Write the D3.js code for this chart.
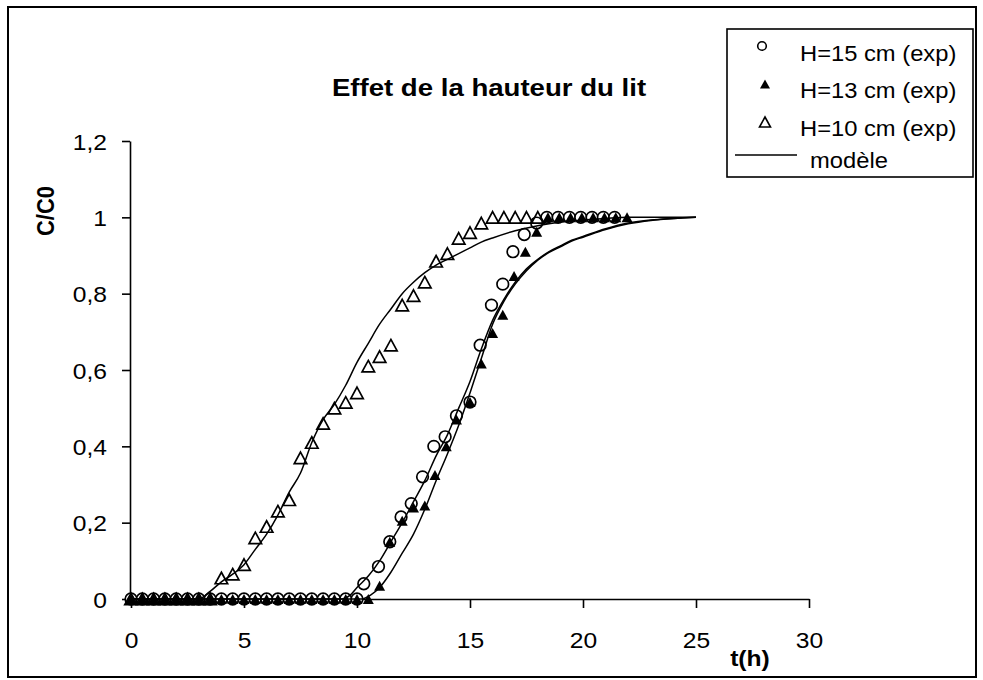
<!DOCTYPE html>
<html>
<head>
    <title>Effet de la hauteur du lit</title>
    <style>
        body {
            margin: 0;
            padding: 0;
            background: #fff;
        }
        #chart text {
            font-family: "Liberation Sans", Arial, sans-serif;
        }
    </style>
</head>
<body>
    <div id="chart"></div>

    <script src="https://d3js.org/d3.v7.min.js"></script>
    <script>
        // experimental points, H = 15 cm (open circles)
        const h15T = [0, 0.5, 1, 1.5, 2, 2.5, 3, 3.5, 4, 4.5, 5, 5.5, 6, 6.5, 7, 7.5, 8, 8.5, 9, 9.5, 10,
            10.3, 10.95, 11.45, 11.95, 12.4, 12.9, 13.4, 13.9, 14.4, 15.0, 15.45, 15.95, 16.45, 16.9, 17.4, 17.95,
            18.4, 18.9, 19.4, 19.9, 20.4, 20.9, 21.4];
        const h15C = [0, 0, 0, 0, 0, 0, 0, 0, 0, 0, 0, 0, 0, 0, 0, 0, 0, 0, 0, 0, 0,
            0.04, 0.085, 0.15, 0.215, 0.25, 0.32, 0.40, 0.425, 0.48, 0.516, 0.665, 0.77, 0.825, 0.91, 0.955, 0.985,
            1, 1, 1, 1, 1, 1, 1];

        // experimental points, H = 13 cm (filled triangles)
        const h13T = [0, 0.5, 1, 1.5, 2, 2.5, 3, 3.5, 4, 4.5, 5, 5.5, 6, 6.5, 7, 7.5, 8, 8.5, 9, 9.5, 10, 10.5,
            11.0, 11.45, 12.0, 12.5, 13.0, 13.45, 13.95, 14.4, 15.0, 15.5, 16.0, 16.45, 16.95, 17.45, 17.95,
            18.45, 18.95, 19.45, 19.95, 20.45, 20.95, 21.45, 21.95];
        const h13C = [0, 0, 0, 0, 0, 0, 0, 0, 0, 0, 0, 0, 0, 0, 0, 0, 0, 0, 0, 0, 0, 0,
            0.035, 0.15, 0.205, 0.24, 0.245, 0.325, 0.40, 0.47, 0.516, 0.617, 0.697, 0.745, 0.846, 0.91, 0.962,
            1, 1, 1, 1, 1, 1, 1, 1];

        // experimental points, H = 10 cm (open triangles)
        const h10T = [0, 0.5, 1, 1.5, 2, 2.5, 3, 3.5,
            4.0, 4.5, 5.0, 5.5, 6.0, 6.5, 7.0, 7.5, 8.0, 8.5, 9.0, 9.5, 10.0, 10.5, 11.0, 11.5,
            12.0, 12.5, 13.0, 13.5, 14.0, 14.5, 15.0, 15.5, 16.0, 16.5, 17.0, 17.5, 18.0];
        const h10C = [0, 0, 0, 0, 0, 0, 0, 0,
            0.055, 0.065, 0.09, 0.16, 0.19, 0.23, 0.26, 0.37, 0.41, 0.46, 0.50, 0.515, 0.54, 0.61, 0.635, 0.665,
            0.77, 0.795, 0.83, 0.885, 0.905, 0.945, 0.96, 0.985, 1, 1, 1, 1, 1];

        // model curves
        const mod15T = [0, 9.3, 9.7, 10, 10.5, 11, 11.5, 12, 12.5, 13, 13.5, 14, 14.5, 15, 15.5, 16, 16.5, 17,
            17.5, 18, 18.5, 19, 19.5, 20, 21, 22, 23, 24, 25];
        const mod15C = [0, 0, 0.01, 0.03, 0.06, 0.10, 0.15, 0.20, 0.255, 0.31, 0.375, 0.43, 0.50, 0.57, 0.655,
            0.73, 0.785, 0.83, 0.865, 0.89, 0.91, 0.925, 0.94, 0.95, 0.97, 0.985, 0.993, 0.997, 1.0];
        const mod13T = [0, 10.2, 10.6, 11, 11.5, 12, 12.5, 13, 13.5, 14, 14.5, 15, 15.5, 16, 16.5, 17, 17.5,
            18, 18.5, 19, 19.5, 20, 21, 22, 23, 24, 25];
        const mod13C = [0, 0, 0.01, 0.03, 0.07, 0.12, 0.17, 0.235, 0.31, 0.38, 0.455, 0.54, 0.63, 0.72, 0.78,
            0.825, 0.86, 0.888, 0.908, 0.923, 0.938, 0.948, 0.968, 0.983, 0.992, 0.997, 1.0];
        const mod10T = [0, 3.0, 3.5, 4, 4.5, 5, 5.5, 6, 6.5, 7, 7.5, 8, 8.5, 9, 9.5, 10, 10.5, 11, 11.5, 12,
            12.5, 13, 13.5, 14, 14.5, 15, 15.5, 16, 17, 18, 19, 20, 21, 22, 25];
        const mod10C = [0, 0, 0.02, 0.045, 0.065, 0.09, 0.13, 0.17, 0.22, 0.28, 0.33, 0.41, 0.47, 0.51, 0.56,
            0.62, 0.67, 0.72, 0.76, 0.80, 0.83, 0.855, 0.875, 0.89, 0.905, 0.92, 0.935, 0.946, 0.965, 0.978,
            0.988, 0.993, 0.997, 1.0, 1.0];

        const xTicks = [0, 5, 10, 15, 20, 25, 30];
        const yTicks = [0, 0.2, 0.4, 0.6, 0.8, 1, 1.2];
        const legendLabels = ['H=15 cm (exp)', 'H=13 cm (exp)', 'H=10 cm (exp)', 'modèle'];

        const W = 983, H = 680;
        const SX = 1.12; // text in the picture is a bit wide
        const FONT = 22;

        const svg = d3.select('#chart').append('svg')
            .attr('width', W)
            .attr('height', H);

        svg.append('rect').attr('width', W).attr('height', H).attr('fill', '#fff');
        svg.append('rect')
            .attr('x', 8).attr('y', 7)
            .attr('width', 968).attr('height', 670)
            .attr('fill', 'none').attr('stroke', '#000').attr('stroke-width', 2);

        const x = d3.scaleLinear().domain([0, 30]).range([131, 809]);
        const y = d3.scaleLinear().domain([0, 1.2]).range([599, 141]);

        function label(parent, px, py, str, anchor, bold, opts = {}) {
            const sx = opts.sx || SX;
            const rot = opts.rotate;
            return parent.append('text')
                .attr('transform', `translate(${px},${py})` + (rot ? ` rotate(${rot}) scale(1,${sx})` : ` scale(${sx},1)`))
                .attr('text-anchor', anchor)
                .attr('font-size', opts.size || FONT)
                .attr('font-weight', bold ? 'bold' : 'normal')
                .attr('fill', '#000')
                .text(str);
        }

        const fmt = d => String(d).replace('.', ',');

        // axes
        const gy = svg.append('g')
            .attr('transform', `translate(${x(0) - 1},0)`)
            .call(d3.axisLeft(y).tickValues(yTicks).tickSize(8).tickSizeOuter(0).tickFormat(fmt));
        gy.selectAll('text')
            .attr('x', 0).attr('dy', null)
            .attr('transform', `translate(-23,8) scale(${SX},1)`)
            .attr('font-size', FONT).attr('fill', '#000')
            .attr('font-family', '"Liberation Sans", Arial, sans-serif');

        const gx = svg.append('g')
            .attr('transform', `translate(0,${y(0)})`)
            .call(d3.axisBottom(x).tickValues(xTicks).tickSize(9).tickSizeOuter(0).tickFormat(d => d));
        gx.selectAll('text')
            .attr('y', 0).attr('dy', null)
            .attr('transform', `translate(0,49) scale(${SX},1)`)
            .attr('font-size', FONT).attr('fill', '#000')
            .attr('font-family', '"Liberation Sans", Arial, sans-serif');

        svg.selectAll('.domain, .tick line').attr('stroke', '#000').attr('stroke-width', 1.6);

        // titles
        label(svg, 489, 96, 'Effet de la hauteur du lit', 'middle', true, { size: 23, sx: 1.2 });
        label(svg, 750, 666, 't(h)', 'middle', true);
        label(svg, 54, 211, 'C/C0', 'middle', true, { rotate: -90 });

        // markers
        function triPath(w, h) {
            return `M0,${-h / 2}L${w / 2},${h / 2}L${-w / 2},${h / 2}Z`;
        }

        const plot = svg.append('g');

        const pts15 = h15T.map((t, i) => [t, h15C[i]]);
        const pts13 = h13T.map((t, i) => [t, h13C[i]]);
        const pts10 = h10T.map((t, i) => [t, h10C[i]]);

        plot.selectAll('circle.h15')
            .data(pts15)
            .enter().append('circle')
            .attr('class', 'h15')
            .attr('cx', d => x(d[0]))
            .attr('cy', d => y(d[1]))
            .attr('r', 5.8)
            .attr('fill', '#fff')
            .attr('stroke', '#000')
            .attr('stroke-width', 1.7);

        plot.selectAll('path.h13')
            .data(pts13)
            .enter().append('path')
            .attr('class', 'h13')
            .attr('d', triPath(11, 10))
            .attr('transform', d => `translate(${x(d[0])},${y(d[1])})`)
            .attr('fill', '#000');

        plot.selectAll('path.h10')
            .data(pts10)
            .enter().append('path')
            .attr('class', 'h10')
            .attr('d', triPath(12.5, 11.5))
            .attr('transform', d => `translate(${x(d[0])},${y(d[1])})`)
            .attr('fill', 'none')
            .attr('stroke', '#000')
            .attr('stroke-width', 1.7)
            .attr('stroke-linejoin', 'miter');

        // model lines
        const line = d3.line()
            .x(d => x(d[0]))
            .y(d => y(d[1]))
            .curve(d3.curveMonotoneX);

        [[mod15T, mod15C], [mod13T, mod13C], [mod10T, mod10C]].forEach(([ts, cs]) => {
            plot.append('path')
                .datum(ts.map((t, i) => [t, cs[i]]))
                .attr('d', line)
                .attr('fill', 'none')
                .attr('stroke', '#000')
                .attr('stroke-width', 1.5);
        });

        // legend
        const lg = svg.append('g');
        lg.append('rect')
            .attr('x', 727).attr('y', 29)
            .attr('width', 246).attr('height', 148)
            .attr('fill', '#fff')
            .attr('stroke', '#000').attr('stroke-width', 1.6);

        const rowY = [53, 90, 128, 160];
        lg.append('circle')
            .attr('cx', 762).attr('cy', rowY[0] - 7).attr('r', 4.3)
            .attr('fill', 'none').attr('stroke', '#000').attr('stroke-width', 1.6);
        lg.append('path')
            .attr('d', triPath(10, 9))
            .attr('transform', `translate(765,${rowY[1] - 6})`)
            .attr('fill', '#000');
        lg.append('path')
            .attr('d', triPath(11, 10))
            .attr('transform', `translate(765,${rowY[2] - 6})`)
            .attr('fill', 'none').attr('stroke', '#000').attr('stroke-width', 1.6);
        lg.append('line')
            .attr('x1', 735).attr('x2', 797)
            .attr('y1', rowY[3] - 5).attr('y2', rowY[3] - 5)
            .attr('stroke', '#000').attr('stroke-width', 1.5);

        legendLabels.forEach((s, i) => {
            label(lg, i < 3 ? 800 : 810, rowY[i] + 8, s, 'start', false, { sx: 1.08 });
        });
    </script>
</body>
</html>
